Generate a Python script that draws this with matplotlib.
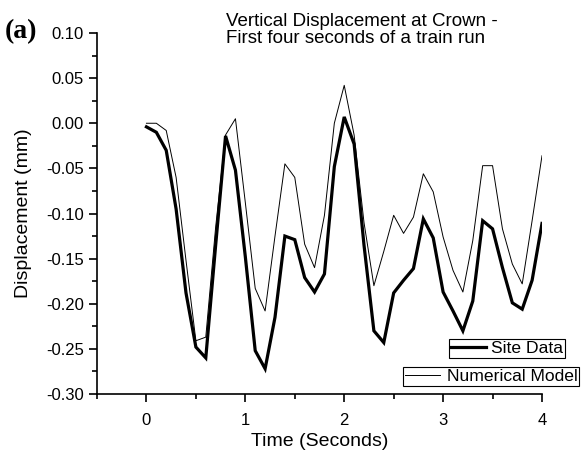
import numpy as np
import matplotlib
matplotlib.use('Agg')
import matplotlib.pyplot as plt
from matplotlib.ticker import MultipleLocator, FormatStrFormatter

plt.rcParams['font.family'] = ['Liberation Sans', 'DejaVu Sans']

# time in seconds, 0.1 s steps
time_s = [0.0, 0.1, 0.2, 0.3, 0.4, 0.5, 0.6, 0.7, 0.8, 0.9,
          1.0, 1.1, 1.2, 1.3, 1.4, 1.5, 1.6, 1.7, 1.8, 1.9,
          2.0, 2.1, 2.2, 2.3, 2.4, 2.5, 2.6, 2.7, 2.8, 2.9,
          3.0, 3.1, 3.2, 3.3, 3.4, 3.5, 3.6, 3.7, 3.8, 3.9, 4.0]

site_data = [-0.004, -0.010, -0.030, -0.095, -0.188, -0.248, -0.260, -0.135, -0.014, -0.052,
             -0.148, -0.252, -0.272, -0.215, -0.125, -0.129, -0.171, -0.187, -0.167, -0.048,
             0.007, -0.023, -0.135, -0.230, -0.243, -0.188, -0.174, -0.161, -0.106, -0.127,
             -0.187, -0.208, -0.230, -0.197, -0.108, -0.117, -0.160, -0.199, -0.206, -0.174, -0.111]

numerical_model = [0.000, 0.000, -0.008, -0.060, -0.152, -0.241, -0.237, -0.115, -0.013, 0.005,
                   -0.088, -0.183, -0.208, -0.125, -0.045, -0.060, -0.134, -0.160, -0.102, 0.000,
                   0.042, -0.013, -0.110, -0.180, -0.142, -0.102, -0.122, -0.104, -0.056, -0.076,
                   -0.126, -0.163, -0.187, -0.130, -0.047, -0.047, -0.117, -0.156, -0.178, -0.108, -0.036]

fig = plt.figure(figsize=(5.82, 4.54), dpi=100)
ax = fig.add_axes([97/582, 1-394/454, (542-97)/582, (394-33)/454])

l_site, = ax.plot(time_s, site_data, color='black', lw=2.3, solid_joinstyle='miter')
l_model, = ax.plot(time_s, numerical_model, color='black', lw=0.7)

ax.set_xlim(-0.5, 4.0)
ax.set_ylim(-0.30, 0.10)
ax.xaxis.set_major_locator(MultipleLocator(1))
ax.xaxis.set_minor_locator(MultipleLocator(0.5))
ax.yaxis.set_major_locator(MultipleLocator(0.05))
ax.yaxis.set_minor_locator(MultipleLocator(0.025))
ax.yaxis.set_major_formatter(FormatStrFormatter('%.2f'))
ax.spines['top'].set_visible(False)
ax.spines['right'].set_visible(False)
for s in ['left', 'bottom']:
    ax.spines[s].set_linewidth(1.2)
ax.tick_params(which='major', direction='out', length=6, width=1.2, labelsize=12)
ax.tick_params(which='minor', direction='out', length=3.5, width=1.2)
ax.tick_params(axis='x', pad=8)

ax.set_xlabel('Time (Seconds)', fontsize=14, labelpad=3)
ax.set_ylabel('Displacement (mm)', fontsize=14, labelpad=10)

fig.text(226/582, 1-30/454, 'Vertical Displacement at Crown -\nFirst four seconds of a train run',
         fontsize=13.5, ha='left', va='center', linespacing=1.05)
fig.text(5/582, 1-32/454, '(a)', fontsize=20, fontweight='bold',
         family='Liberation Serif', ha='left', va='center')

leg1 = ax.legend([l_site], ['Site Data'], loc='upper left',
                 bbox_to_anchor=(449/582, 1-339/454), bbox_transform=fig.transFigure,
                 fontsize=12.6, frameon=True, fancybox=False, framealpha=1,
                 edgecolor='black', borderpad=0.1, handlelength=2.0, handletextpad=0.3,
                 borderaxespad=0)
leg1.get_frame().set_linewidth(0.8)
ax.add_artist(leg1)
leg2 = ax.legend([l_model], ['Numerical Model'], loc='upper left',
                 bbox_to_anchor=(403/582, 1-367/454), bbox_transform=fig.transFigure,
                 fontsize=12.6, frameon=True, fancybox=False, framealpha=1,
                 edgecolor='black', borderpad=0.1, handlelength=2.0, handletextpad=0.4,
                 borderaxespad=0)
leg2.get_frame().set_linewidth(0.8)

fig.savefig('out.png', dpi=100)
